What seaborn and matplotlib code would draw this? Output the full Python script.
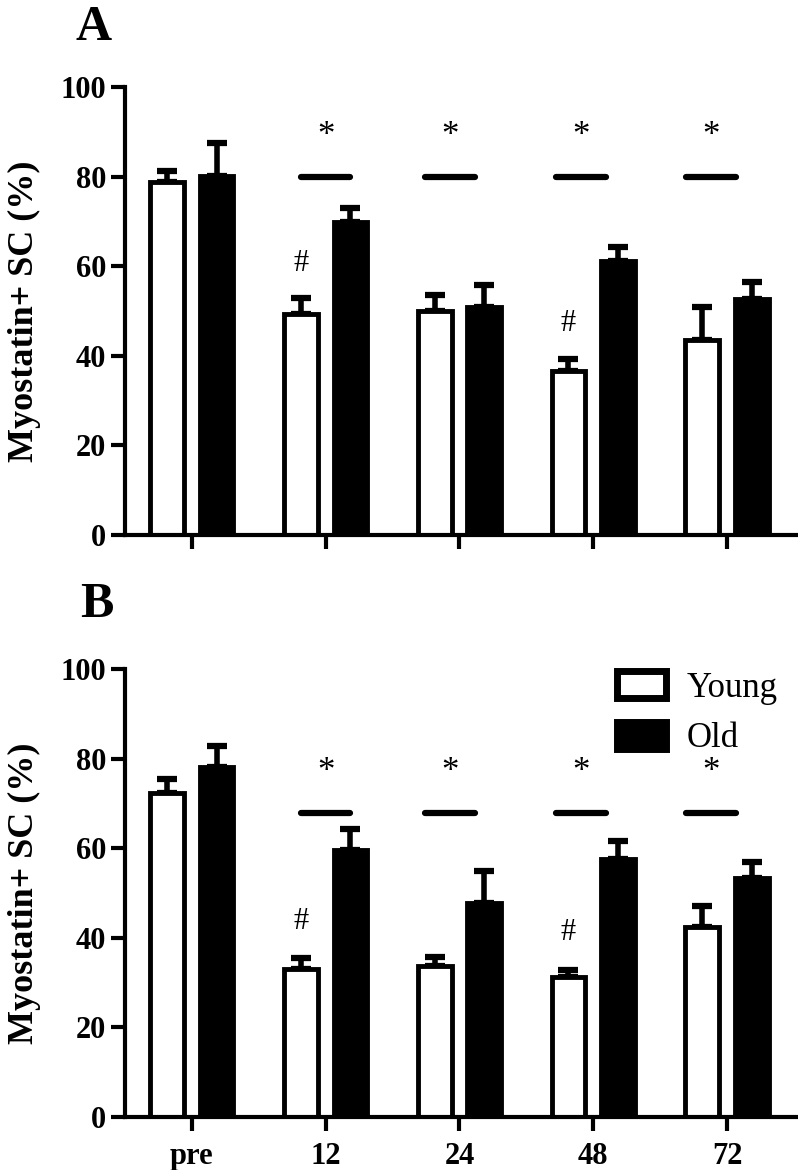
import matplotlib.pyplot as plt
import numpy as np
import pandas as pd
import seaborn as sns

times = ["pre", "12", "24", "48", "72"]
groups = ["Young", "Old"]

# panel A
young_a = [78.9, 49.4, 50.0, 36.6, 43.6]
young_a_err = [2.4, 3.6, 3.6, 2.8, 7.4]
old_a = [80.2, 69.8, 50.8, 61.1, 52.8]
old_a_err = [7.2, 3.3, 5.0, 3.3, 3.7]

# panel B
young_b = [72.4, 33.1, 33.6, 31.2, 42.4]
young_b_err = [3.1, 2.3, 2.2, 1.7, 4.8]
old_b = [78.2, 59.6, 47.8, 57.6, 53.3]
old_b_err = [4.6, 4.6, 7.2, 4.1, 3.6]

# significance marks: * between groups, # vs pre
star_times = ["12", "24", "48", "72"]
star_shift = [0.0, -0.07, -0.09, -0.12]
hash_times = ["12", "48"]
hash_a = [60.7, 47.3]
hash_b = [43.6, 41.1]

sns.set_style("ticks")
plt.rcParams["font.family"] = ["Liberation Serif", "DejaVu Serif"]
for key in ["text.color", "axes.labelcolor", "xtick.color", "ytick.color", "axes.edgecolor"]:
    plt.rcParams[key] = "black"


def draw_panel(ax, young, young_err, old, old_err, line_y, star_y, hash_y, legend):
    df = pd.DataFrame({
        "time": times * 2,
        "value": young + old,
        "group": ["Young"] * len(times) + ["Old"] * len(times),
    })
    sns.barplot(data=df, x="time", y="value", hue="group", hue_order=groups,
                palette={"Young": "white", "Old": "black"}, saturation=1,
                edgecolor="black", linewidth=3.5, width=0.74, gap=0.32,
                errorbar=None, legend=legend, ax=ax)

    # SEM bars, upper half only
    for cont, err in zip(ax.containers, [young_err, old_err]):
        xs = [p.get_x() + p.get_width() / 2 for p in cont]
        hs = [p.get_height() for p in cont]
        ax.errorbar(xs, hs, yerr=[np.zeros(len(err)), err], fmt="none",
                    ecolor="black", elinewidth=4, capsize=7.5, capthick=4.5,
                    zorder=0.5)

    young_x = [p.get_x() + p.get_width() / 2 for p in ax.containers[0]]
    for t, dx in zip(star_times, star_shift):
        c = times.index(t) + dx
        ax.plot([c - 0.185, c + 0.185], [line_y, line_y], color="black", lw=4.5,
                solid_capstyle="round")
        ax.text(c, star_y, "*", ha="center", va="center", fontsize=25)
    for t, hy in zip(hash_times, hash_y):
        ax.text(young_x[times.index(t)], hy, "#", ha="center", va="center", fontsize=22)

    ax.set_xlim(-0.5, 4.516)
    ax.set_ylim(0, 100)
    ax.set_yticks(range(0, 101, 20))
    ax.set_xlabel("")
    ax.set_ylabel("Myostatin+ SC (%)", fontsize=26, fontweight="bold", labelpad=14)
    sns.despine(ax=ax)
    for s in ["left", "bottom"]:
        ax.spines[s].set_linewidth(3)
    ax.tick_params(axis="both", width=3, length=10, labelsize=22)
    for lab in ax.get_yticklabels() + ax.get_xticklabels():
        lab.set_fontweight("bold")


fig = plt.figure(figsize=(7.98, 11.7), dpi=100)
ax_a = fig.add_axes([0.1566, 0.5427, 0.841, 0.3829])
ax_b = fig.add_axes([0.1566, 0.0453, 0.841, 0.3829])

draw_panel(ax_a, young_a, young_a_err, old_a, old_a_err, 80, 89, hash_a, False)
ax_a.set_xticklabels([])

draw_panel(ax_b, young_b, young_b_err, old_b, old_b_err, 67.8, 76.8, hash_b, True)
ax_b.tick_params(axis="x", pad=8)
sns.move_legend(ax_b, "upper left", bbox_to_anchor=(0.733, 0.995), title=None,
                frameon=False, fontsize=25, handlelength=1.42, handleheight=0.8,
                handletextpad=0.6, labelspacing=0.5, borderpad=0, borderaxespad=0)
for h in ax_b.get_legend().get_patches():
    h.set_linewidth(5)

fig.text(0.094, 0.9658, "A", fontsize=36, fontweight="bold", va="baseline")
fig.text(0.100, 0.4726, "B", fontsize=36, fontweight="bold", va="baseline")

fig.savefig("out.png", dpi=100)
